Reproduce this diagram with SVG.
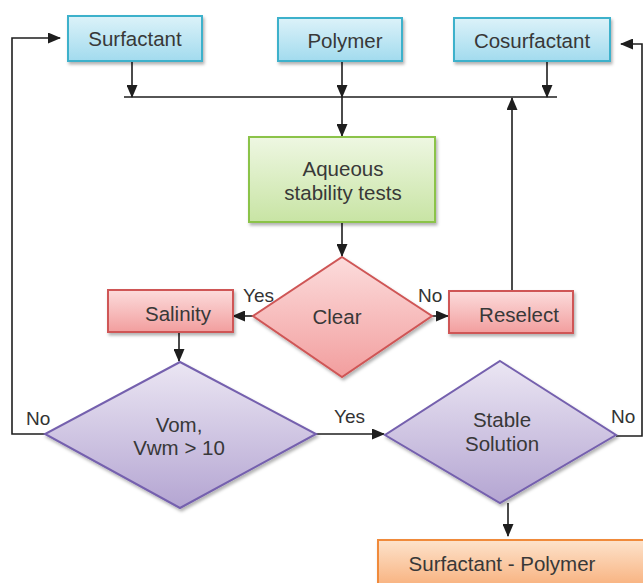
<svg xmlns="http://www.w3.org/2000/svg" width="643" height="583" viewBox="0 0 643 583">
<defs>
<linearGradient id="gBlue" x1="0" y1="0" x2="0" y2="1"><stop offset="0" stop-color="#dcf2f9"/><stop offset="1" stop-color="#a2dbee"/></linearGradient>
<linearGradient id="gGreen" x1="0" y1="0" x2="0" y2="1"><stop offset="0" stop-color="#eef7e2"/><stop offset="1" stop-color="#c8e4a4"/></linearGradient>
<linearGradient id="gRed" x1="0" y1="0" x2="0" y2="1"><stop offset="0" stop-color="#fcdcdc"/><stop offset="1" stop-color="#f29e9e"/></linearGradient>
<linearGradient id="gPurple" x1="0" y1="0" x2="0" y2="1"><stop offset="0" stop-color="#ebe6f3"/><stop offset="1" stop-color="#b4a5d2"/></linearGradient>
<linearGradient id="gOrange" x1="0" y1="0" x2="0" y2="1"><stop offset="0" stop-color="#fde3cc"/><stop offset="1" stop-color="#f8b07c"/></linearGradient>
<filter id="sh" x="-10%" y="-10%" width="130%" height="140%"><feDropShadow dx="1.5" dy="2.5" stdDeviation="1.8" flood-color="#000" flood-opacity="0.3"/></filter>
<marker id="ah" markerWidth="13" markerHeight="11" refX="12" refY="5.5" orient="auto" markerUnits="userSpaceOnUse"><path d="M0,0 L13,5.5 L0,11 z" fill="#1e1e1e"/></marker>
</defs>
<style>
.t{font-family:"Liberation Sans",Arial,sans-serif;font-size:20.5px;fill:#383838;text-anchor:middle}
.l{font-family:"Liberation Sans",Arial,sans-serif;font-size:19px;fill:#333}
.c{fill:none;stroke:#1e1e1e;stroke-width:1.6}
.blue{fill:url(#gBlue);stroke:#3db1cb;stroke-width:2;filter:url(#sh)}
.green{fill:url(#gGreen);stroke:#8bc34a;stroke-width:2;filter:url(#sh)}
.red{fill:url(#gRed);stroke:#cf5656;stroke-width:2;filter:url(#sh)}
.purple{fill:url(#gPurple);stroke:#7561ae;stroke-width:2;filter:url(#sh)}
.orange{fill:url(#gOrange);stroke:#f08a3a;stroke-width:2;filter:url(#sh)}
</style>
<g id="connectors">
<line class="c" x1="124" y1="97" x2="557" y2="97"/>
<line class="c" x1="132" y1="61" x2="132" y2="97" marker-end="url(#ah)"/>
<line class="c" x1="342" y1="61" x2="342" y2="97" marker-end="url(#ah)"/>
<line class="c" x1="547" y1="61" x2="547" y2="97" marker-end="url(#ah)"/>
<line class="c" x1="342" y1="97" x2="342" y2="136" marker-end="url(#ah)"/>
<line class="c" x1="512" y1="291" x2="512" y2="98" marker-end="url(#ah)"/>
<line class="c" x1="342" y1="222" x2="342" y2="256" marker-end="url(#ah)"/>
<line class="c" x1="253" y1="316" x2="233" y2="316" marker-end="url(#ah)"/>
<line class="c" x1="432" y1="316" x2="448" y2="316" marker-end="url(#ah)"/>
<line class="c" x1="179" y1="332" x2="179" y2="361" marker-end="url(#ah)"/>
<line class="c" x1="316" y1="434" x2="384" y2="434" marker-end="url(#ah)"/>
<polyline class="c" points="45,434 12,434 12,38 60,38" marker-end="url(#ah)"/>
<polyline class="c" points="616,436 642,436 642,44 621,44" marker-end="url(#ah)"/>
<line class="c" x1="508" y1="503" x2="508" y2="536" marker-end="url(#ah)"/>
<text class="l" x="243" y="302">Yes</text>
<text class="l" x="418" y="302">No</text>
<text class="l" x="334" y="423">Yes</text>
<text class="l" x="26" y="425">No</text>
<text class="l" x="611" y="423">No</text>
</g>
<g id="surfactant"><rect class="blue" x="68" y="16" width="134" height="45"/><text class="t" x="135" y="46">Surfactant</text></g>
<g id="polymer"><rect class="blue" x="278" y="18" width="124" height="43"/><text class="t" x="345" y="48">Polymer</text></g>
<g id="cosurfactant"><rect class="blue" x="454" y="18" width="156" height="43"/><text class="t" x="532" y="48">Cosurfactant</text></g>
<g id="aqueous"><rect class="green" x="249" y="137" width="186" height="85"/><text class="t" x="343" y="176">Aqueous</text><text class="t" x="343" y="200">stability tests</text></g>
<g id="clear"><polygon class="red" points="342,257 432,316 342,377 253,316"/><text class="t" x="337" y="324">Clear</text></g>
<g id="salinity"><rect class="red" x="108" y="290" width="125" height="42"/><text class="t" x="178" y="321">Salinity</text></g>
<g id="reselect"><rect class="red" x="449" y="291" width="124" height="42"/><text class="t" x="519" y="322">Reselect</text></g>
<g id="vom"><polygon class="purple" points="180,362 316,434 180,508 45,434"/><text class="t" x="179" y="432">Vom,</text><text class="t" x="179" y="455">Vwm &gt; 10</text></g>
<g id="stable"><polygon class="purple" points="500,361 616,435 500,503 385,435"/><text class="t" x="502" y="427">Stable</text><text class="t" x="502" y="451">Solution</text></g>
<g id="sp"><rect class="orange" x="378" y="540" width="268" height="48"/><text class="t" x="502" y="571">Surfactant - Polymer</text></g>
</svg>
